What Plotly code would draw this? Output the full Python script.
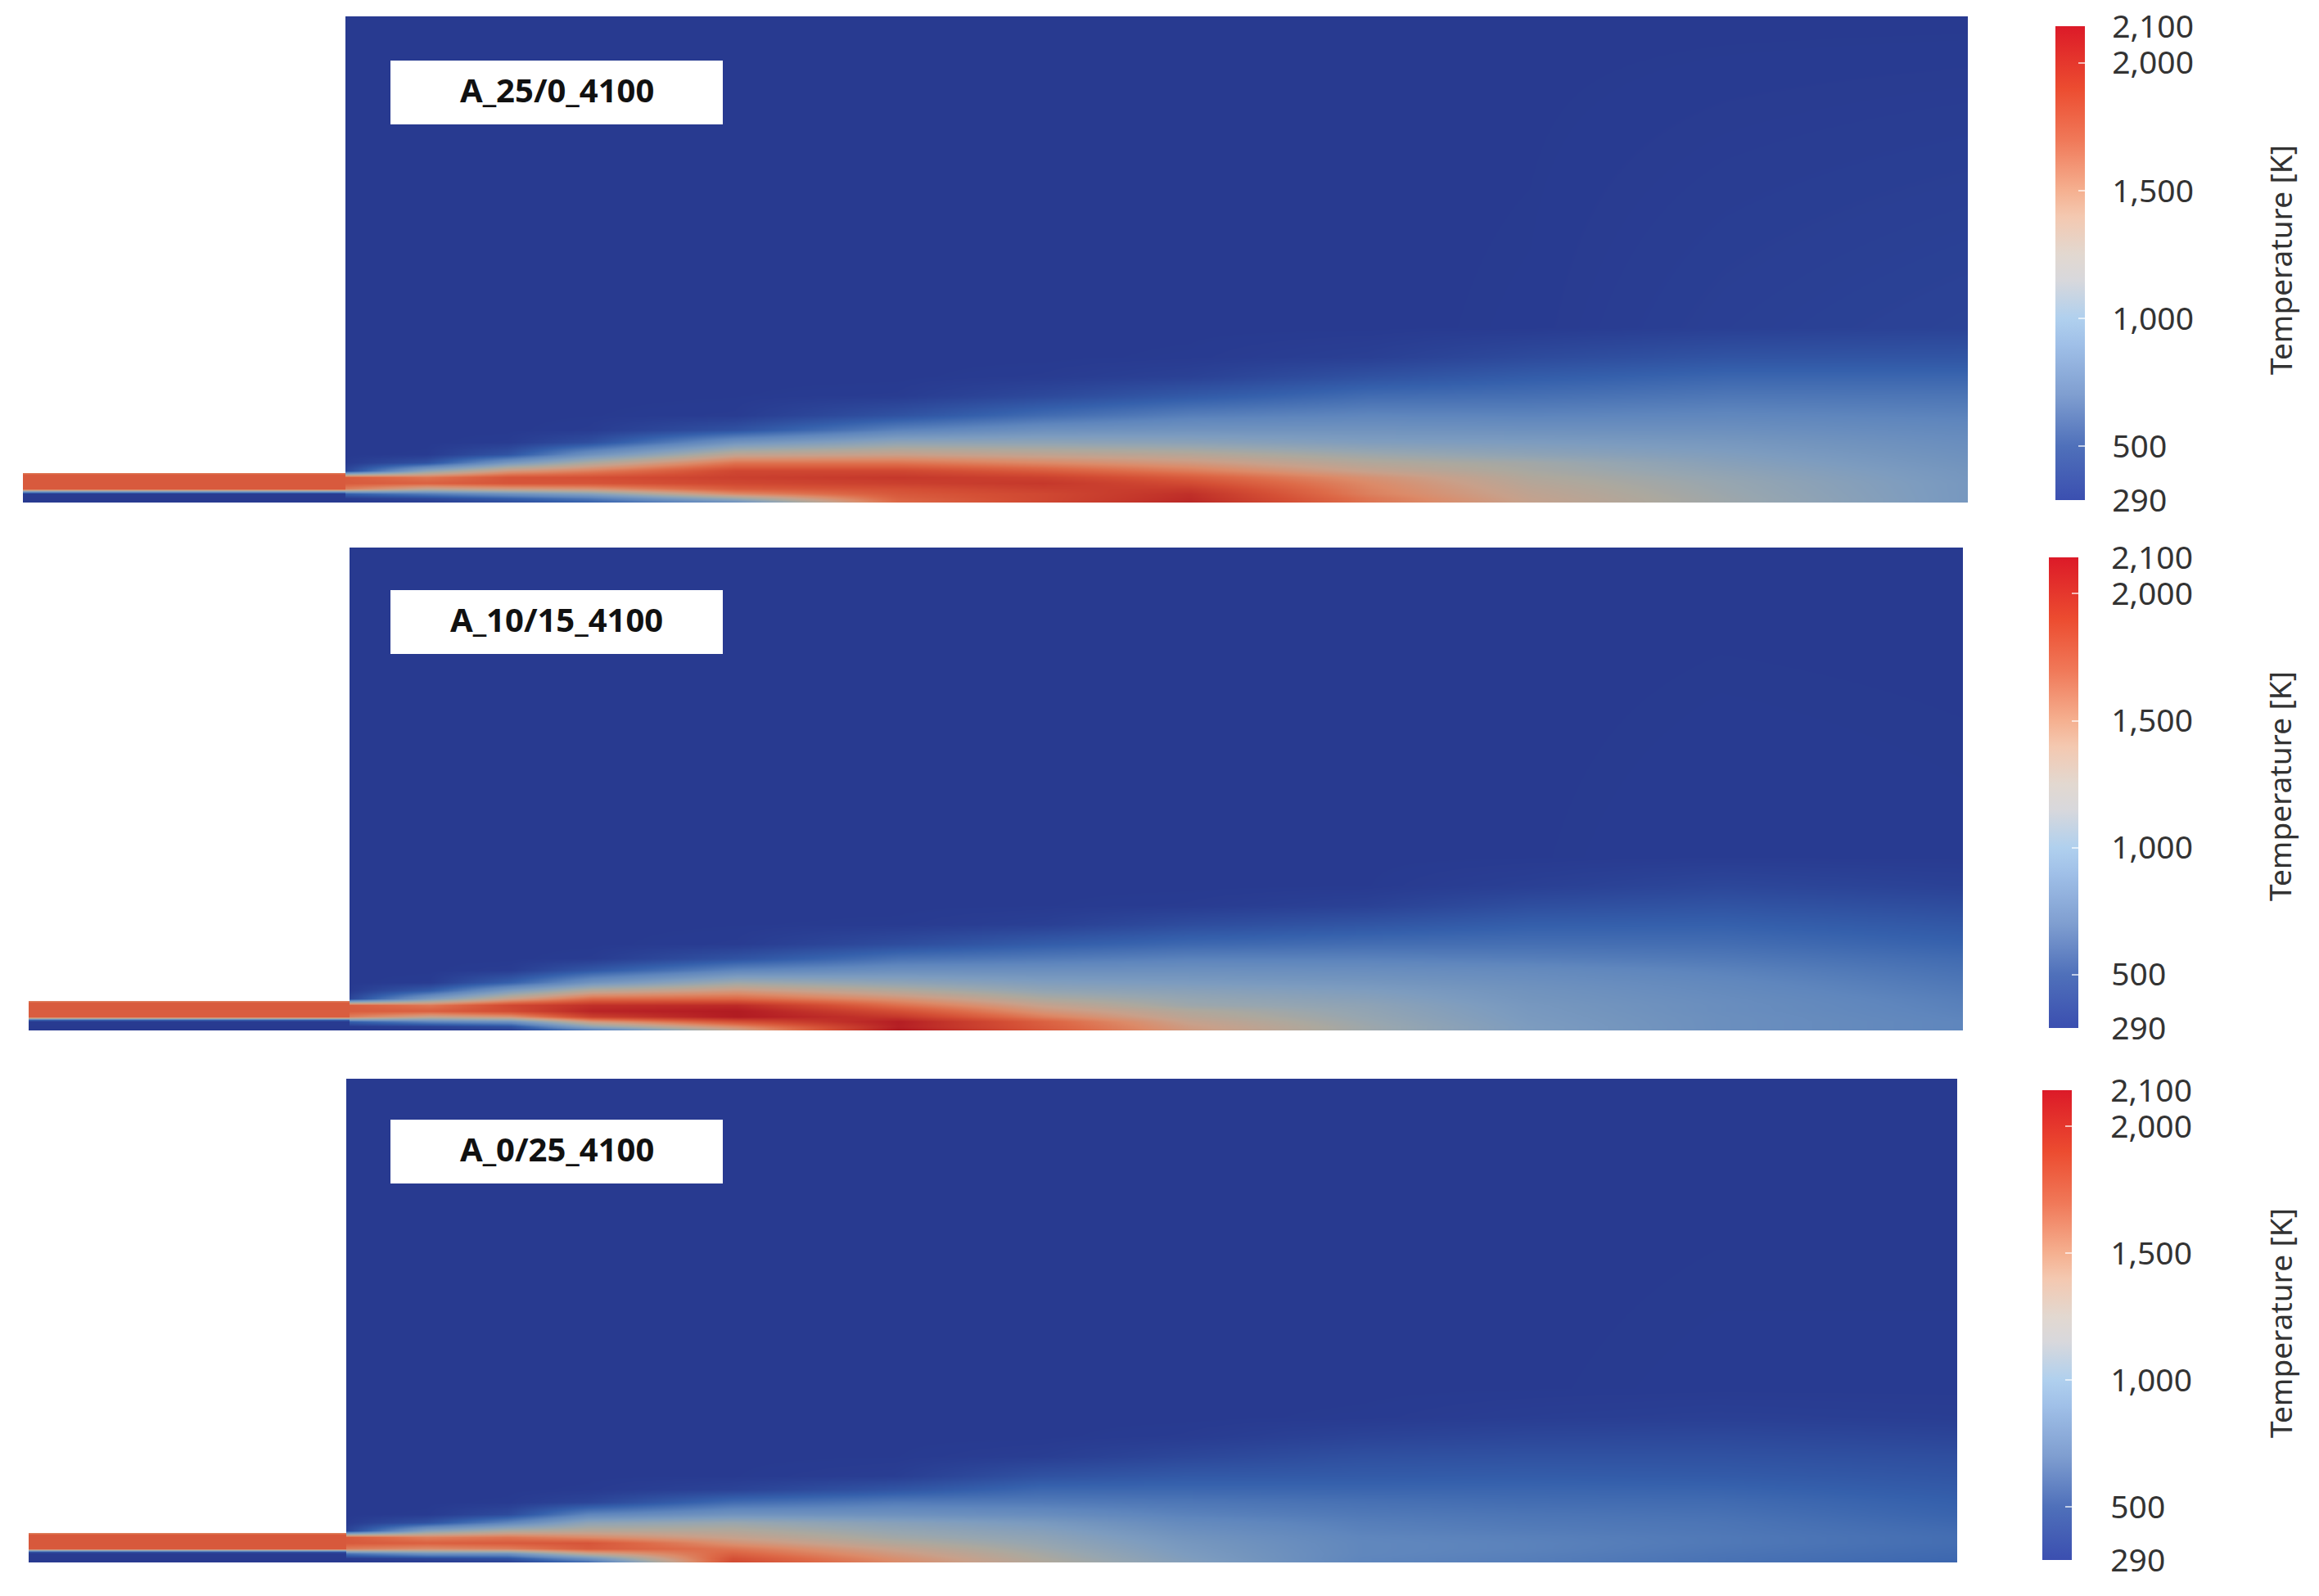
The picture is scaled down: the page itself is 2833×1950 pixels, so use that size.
import plotly.graph_objects as go

W, H = 2833, 1950

# ---- data (temperature in K) ----
panel_names = ["A_25/0_4100", "A_10/15_4100", "A_0/25_4100"]
tick_values = [290, 500, 1000, 1500, 2000, 2143]
tick_labels = ["290", "500", "1,000", "1,500", "2,000", "2,100"]
inner_ticks = [500, 1000, 1500, 2000]

# stations along the burner, % of chamber length; heights, % of chamber height
x_nodes = [0, 5, 10, 15, 24, 34, 43, 52, 63, 73, 85, 100]
y_nodes = [0, 0.8, 1.8, 2.8, 4, 5.2, 6.6, 8.3, 10, 12.5, 15, 18, 22, 26, 30, 36, 100]
inlet_x = [-20, 0]
inlet_y = [0, 1.9, 2.1, 2.5, 2.9, 5.6, 6]

# each list is one station, bottom to top
p1_columns = [
    [290,290,500,1500,1680,1680,360,295,290,290,290,290,290,290,290,290,290],
    [300,360,650,1250,1650,1550,1000,420,295,290,290,290,290,290,290,290,290],
    [380,480,800,1350,1720,1720,1350,850,430,300,290,290,290,290,290,290,290],
    [480,620,950,1400,1720,1750,1500,1150,800,400,300,292,290,290,290,290,290],
    [750,1050,1450,1680,1800,1850,1800,1550,1250,820,420,300,292,290,290,290,290],
    [1600,1650,1700,1750,1850,1900,1800,1550,1300,1000,680,420,300,290,290,290,290],
    [1800,1800,1800,1850,1900,1840,1680,1450,1250,1000,790,560,370,300,290,290,290],
    [2000,1980,1950,1880,1780,1680,1520,1350,1200,980,820,660,460,330,295,290,290],
    [1550,1550,1500,1480,1450,1400,1280,1180,1080,920,820,700,560,420,320,290,290],
    [1280,1270,1250,1230,1200,1170,1130,1100,1000,900,800,690,580,480,380,295,290],
    [1080,1080,1070,1060,1050,1030,1000,960,920,860,790,710,620,530,430,320,290],
    [860,860,860,860,860,850,840,820,800,770,730,680,610,530,440,340,290],
]
p2_columns = [
    [290,290,500,1500,1670,1670,360,295,290,290,290,290,290,290,290,290,290],
    [292,330,700,1280,1660,1540,900,480,300,290,290,290,290,290,290,290,290],
    [320,420,800,1400,1780,1800,1300,900,500,305,290,290,290,290,290,290,290],
    [600,1000,1350,1850,2020,1950,1600,1200,820,450,300,290,290,290,290,290,290],
    [1250,1450,1750,2080,2080,1980,1620,1350,1080,700,430,300,292,290,290,290,290],
    [2100,2050,2060,1900,1750,1580,1400,1180,1000,780,600,390,295,290,290,290,290],
    [1700,1680,1650,1500,1380,1280,1150,1020,920,780,640,480,320,292,290,290,290],
    [1350,1330,1280,1220,1170,1080,1040,970,890,790,680,540,390,300,290,290,290],
    [1080,1080,1060,1040,1020,1000,960,910,850,770,680,570,440,330,292,290,290],
    [900,900,890,880,870,860,840,820,790,740,660,580,490,400,320,292,290],
    [780,780,780,780,770,770,760,740,720,680,630,570,500,430,360,298,290],
    [700,700,700,690,680,670,660,640,620,590,560,510,450,390,330,295,290],
]
p3_columns = [
    [290,290,600,1500,1690,1690,340,295,290,290,290,290,290,290,290,290,290],
    [292,350,800,1430,1650,1500,950,420,295,290,290,290,290,290,290,290,290],
    [320,420,800,1500,1680,1550,1150,700,380,295,290,290,290,290,290,290,290],
    [520,800,1250,1680,1720,1450,1200,1000,700,350,295,290,290,290,290,290,290],
    [1780,1750,1650,1550,1400,1280,1180,1060,820,560,340,292,290,290,290,290,290],
    [1450,1420,1350,1280,1180,1100,1040,960,800,640,440,310,292,290,290,290,290],
    [1180,1150,1120,1080,1040,1000,950,880,760,640,540,420,310,290,290,290,290],
    [950,920,900,880,860,830,790,740,680,620,540,460,360,300,290,290,290],
    [700,700,710,710,710,700,680,660,630,590,530,470,410,340,295,290,290],
    [660,660,670,680,680,670,650,630,610,570,530,480,420,360,310,292,290],
    [600,600,610,620,630,630,620,610,590,560,520,470,420,370,320,295,290],
    [530,540,550,560,570,570,560,540,520,500,470,440,400,350,310,295,290],
]
p1_inlet = [290, 295, 700, 1200, 1690, 1690, 1550]
p2_inlet = [290, 295, 500, 1150, 1670, 1680, 1500]
p3_inlet = [290, 295, 420, 1000, 1690, 1700, 1500]

field_stops = [(290,"#283a90"),(500,"#3560ac"),(700,"#5f86bd"),(900,"#7d9cbf"),(1050,"#97a6b0"),
               (1150,"#aca89e"),(1300,"#c8a08a"),(1450,"#dc8a68"),(1600,"#dd6a48"),(1750,"#d44f35"),
               (1900,"#c5382b"),(2050,"#b51f24"),(2143,"#a8151c")]
bar_stops = [(290,"#3b4fb0"),(500,"#4f70ba"),(700,"#7f9ed0"),(900,"#a0c0e8"),(1000,"#b0d0ee"),
             (1150,"#d8d8dc"),(1250,"#e2d8d0"),(1400,"#f4c8b0"),(1500,"#f5b090"),(1700,"#f07858"),
             (1900,"#ec4c30"),(2143,"#dc1a28")]

# ---- layout in pixels ----
ZMIN, ZMAX = 290, 2143
panels = [
    dict(cols=p1_columns, inlet=p1_inlet, left=422, right=2404, top=20, bottom=614, in_left=28, in_top=578,
         bar=(2511, 32, 611), pad=26, box=(74, 152), title_y=318),
    dict(cols=p2_columns, inlet=p2_inlet, left=427, right=2398, top=669, bottom=1259, in_left=35, in_top=1223,
         bar=(2503, 681, 1256), pad=33, box=(721, 799), title_y=961),
    dict(cols=p3_columns, inlet=p3_inlet, left=423, right=2391, top=1318, bottom=1909, in_left=35, in_top=1873,
         bar=(2495, 1332, 1906), pad=40, box=(1368, 1446), title_y=1617),
]
FONT = "Noto Sans"

def scale(stops):
    return [[(v - ZMIN) / (ZMAX - ZMIN), c] for v, c in stops]

def ax_id(k):
    return "" if k == 1 else str(k)

fig = go.Figure()
layout_axes = {}
annotations = []
shapes = []

def add_axes(k, left, right, top, bottom, xr, yr):
    layout_axes[f"xaxis{ax_id(k)}"] = dict(domain=[left / W, right / W], range=xr, visible=False,
                                           anchor=f"y{ax_id(k)}")
    layout_axes[f"yaxis{ax_id(k)}"] = dict(domain=[1 - bottom / H, 1 - top / H], range=yr, visible=False,
                                           anchor=f"x{ax_id(k)}")

for i, p in enumerate(panels):
    k_main, k_inlet = 2 * i + 1, 2 * i + 2
    add_axes(k_main, p["left"], p["right"], p["top"], p["bottom"], [0, 100], [0, 100])
    add_axes(k_inlet, p["in_left"], p["left"], p["in_top"], p["bottom"], inlet_x, [0, 6])

    z_main = [list(r) for r in zip(*p["cols"])]
    fig.add_trace(go.Heatmap(x=x_nodes, y=y_nodes, z=z_main, zmin=ZMIN, zmax=ZMAX, zsmooth="best",
                             colorscale=scale(field_stops), showscale=False,
                             xaxis=f"x{ax_id(k_main)}", yaxis=f"y{ax_id(k_main)}"))
    z_in = [[v, v] for v in p["inlet"]]
    fig.add_trace(go.Heatmap(x=inlet_x, y=inlet_y, z=z_in, zmin=ZMIN, zmax=ZMAX, zsmooth="best",
                             colorscale=scale(field_stops), showscale=False,
                             xaxis=f"x{ax_id(k_inlet)}", yaxis=f"y{ax_id(k_inlet)}"))

    # colour bars: one carries the labels, one on top of it the small inner ticks
    bx, bt, bb = p["bar"]
    common = dict(x=bx / W, xanchor="left", xpad=0, y=1 - bt / H, yanchor="top", ypad=0,
                  len=bb - bt, lenmode="pixels", thickness=36, thicknessmode="pixels",
                  outlinewidth=0, borderwidth=0)
    fig.add_trace(go.Heatmap(x=[-500, -499], y=[-500, -499], z=[[ZMIN, ZMAX], [ZMIN, ZMAX]],
                             zmin=ZMIN, zmax=ZMAX, colorscale=scale(bar_stops), showscale=True,
                             xaxis=f"x{ax_id(k_main)}", yaxis=f"y{ax_id(k_main)}",
                             colorbar=dict(common, tickmode="array", tickvals=tick_values, ticktext=tick_labels,
                                           ticks="outside", ticklen=p["pad"], tickcolor="rgba(0,0,0,0)",
                                           tickfont=dict(family=FONT, size=39, color="#333333"))))
    fig.add_trace(go.Heatmap(x=[-500, -499], y=[-500, -499], z=[[ZMIN, ZMAX], [ZMIN, ZMAX]],
                             zmin=ZMIN, zmax=ZMAX, colorscale=scale(bar_stops), showscale=True,
                             xaxis=f"x{ax_id(k_main)}", yaxis=f"y{ax_id(k_main)}",
                             colorbar=dict(common, tickmode="array", tickvals=inner_ticks, showticklabels=False,
                                           ticks="inside", ticklen=8, tickwidth=2,
                                           tickcolor="rgba(255,255,255,0.65)")))

    b0, b1 = p["box"]
    shapes.append(dict(type="rect", xref="paper", yref="paper", x0=477 / W, x1=883 / W,
                       y0=1 - b1 / H, y1=1 - b0 / H, fillcolor="white", line_width=0, layer="above"))
    annotations.append(dict(text=f"<b>{panel_names[i]}</b>", xref="paper", yref="paper",
                            x=680 / W, xanchor="center", y=1 - (b0 + b1 - 7) / 2 / H, yanchor="middle",
                            showarrow=False, font=dict(family=FONT, size=40, color="#111111")))
    annotations.append(dict(text="Temperature [K]", xref="paper", yref="paper",
                            x=2785 / W, y=1 - p["title_y"] / H, xanchor="center", yanchor="middle",
                            textangle=-90, showarrow=False,
                            font=dict(family=FONT, size=37, color="#333333")))

fig.update_layout(width=W, height=H, margin=dict(l=0, r=0, t=0, b=0, autoexpand=False),
                  paper_bgcolor="white", plot_bgcolor="rgba(0,0,0,0)",
                  annotations=annotations, shapes=shapes, **layout_axes)
fig.write_html("out.html", config=dict(displayModeBar=False),
               post_script="document.body.style.margin='0';")
